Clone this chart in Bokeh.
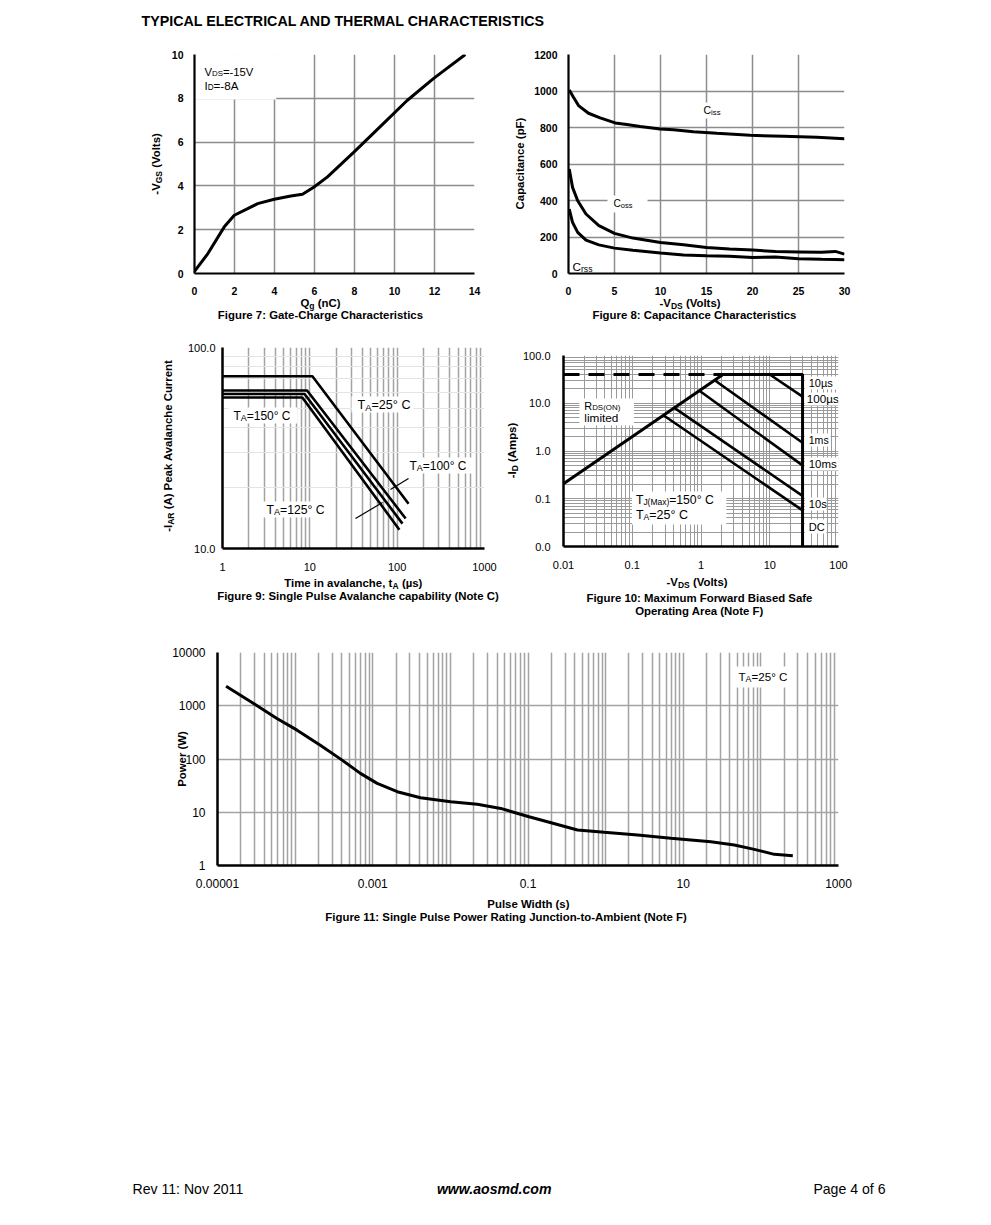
import math
from bokeh.plotting import figure
from bokeh.models import Label, FixedTicker, Range1d
from bokeh.layouts import column, row
from bokeh.embed import file_html
from bokeh.resources import INLINE

FONT = "Liberation Sans"

# ---------------- data ----------------
# Figure 7: gate charge
gate_qg_nc = [0.0, 0.67, 1.49, 1.99, 2.66, 3.16, 3.99, 4.82, 5.40, 5.98, 6.65, 7.97, 9.30, 10.63, 11.96, 13.54]
gate_vgs_v = [0.1, 0.91, 2.13, 2.66, 2.96, 3.19, 3.39, 3.54, 3.62, 3.95, 4.41, 5.54, 6.72, 7.90, 8.91, 10.0]
gate_ticks_x = [0, 2, 4, 6, 8, 10, 12, 14]
gate_ticks_y = [0, 2, 4, 6, 8, 10]

# Figure 8: capacitance
ciss_vds = [0.08, 0.54, 1.09, 2.17, 3.44, 5.07, 6.34, 7.79, 9.96, 11.41, 13.59, 16.12, 19.75, 23.37, 27.0, 30.0]
ciss_pf = [1006, 966, 920, 878, 853, 825, 816, 805, 792, 788, 777, 768, 757, 752, 746, 739]
cap_vds = [0.08, 0.44, 1.0, 1.9, 3.3, 5.0, 7.0, 10, 12.5, 15, 17.5, 20, 22.5, 25, 27.5, 29, 30]
coss_pf = [573, 472, 399, 326, 262, 220, 194, 170, 157, 143, 134, 129, 120, 118, 116, 121, 106]
crss_pf = [353, 280, 225, 183, 157, 139, 128, 112, 102, 97, 95, 88, 90, 81, 78, 77, 75]
cap_ticks_x = [0, 5, 10, 15, 20, 25, 30]
cap_ticks_y = [0, 200, 400, 600, 800, 1000, 1200]

# Figure 9: avalanche
aval_temps_c = [25, 100, 125, 150]
aval_t_us = [[1, 10.7, 135], [1, 9.3, 125], [1, 8.7, 115], [1, 8.2, 106]]
aval_i_a = [[72.0, 72.0, 16.7], [61.1, 61.1, 14.1], [58.7, 58.7, 13.3], [56.4, 56.4, 12.4]]
aval_x_ticks = [1, 10, 100, 1000]
aval_x_labels = ["1", "10", "100", "1000"]
aval_y_ticks = [10, 100]
aval_y_labels = ["10.0", "100.0"]

# Figure 10: safe operating area
soa_rds_vds = [0.01, 2.09]
soa_rds_id = [0.206, 40]
soa_id_max = 40
soa_vds_max = 30
soa_id_min = 0.01
soa_pulse_labels = ["10µs", "100µs", "1ms", "10ms", "10s", "DC"]
soa_line_start_vds = [10.0, 1.6, 0.96, 0.41, 0.284]
soa_line_start_id = [40, 30, 18, 8.0, 5.6]
soa_line_end_id = [13.8, 1.49, 0.5, 0.115, 0.057]
soa_ticks = [0.01, 0.1, 1, 10, 100]
soa_x_labels = ["0.01", "0.1", "1", "10", "100"]
soa_y_labels = ["0.0", "0.1", "1.0", "10.0", "100.0"]

# Figure 11: single pulse power
pulse_width_s = [1.29e-5, 2.92e-5, 5.83e-5, 1.06e-4, 2.11e-4, 4.03e-4, 6.93e-4, 1.14e-3, 2.07e-3,
                 4.12e-3, 1.01e-2, 2.22e-2, 4.45e-2, 0.103, 0.178, 0.434, 0.957, 2.58, 6.93,
                 22.7, 45.5, 82.4, 149, 258]
pulse_power_w = [2333, 1104, 578, 348, 182, 95.3, 53.7, 34.8, 24.3, 18.7, 15.7, 14.1, 11.8,
                 8.24, 6.64, 4.63, 4.20, 3.73, 3.24, 2.80, 2.43, 2.01, 1.62, 1.53]
pulse_x_ticks = [1e-5, 1e-3, 0.1, 10, 1000]
pulse_x_labels = ["0.00001", "0.001", "0.1", "10", "1000"]
pulse_y_ticks = [1, 10, 100, 1000, 10000]
pulse_y_labels = ["1", "10", "100", "1000", "10000"]

# ---------------- text metrics (Arial-compatible) ----------------
REG, BOLD = {}, {}


def _set(tab, chars, w):
    for c in chars:
        tab[c] = w


_set(REG, "0123456789", 556); _set(REG, " .,:", 278); _set(REG, "-()", 333)
_set(REG, "=", 584); _set(REG, "°", 400); _set(REG, "µ", 576)
_set(REG, "ABEKPSVXY", 667); _set(REG, "CDHNRU", 722); _set(REG, "FTZ", 611); _set(REG, "GOQ", 778)
_set(REG, "I", 278); _set(REG, "J", 500); _set(REG, "L", 556); _set(REG, "M", 833); _set(REG, "W", 944)
_set(REG, "abdeghnopqu", 556); _set(REG, "cksvxyz", 500); _set(REG, "ft", 278); _set(REG, "ijl", 222)
_set(REG, "m", 833); _set(REG, "r", 333); _set(REG, "w", 722)
_set(BOLD, "0123456789", 556); _set(BOLD, " .,", 278); _set(BOLD, ":", 333); _set(BOLD, "-()", 333)
_set(BOLD, "=", 584); _set(BOLD, "°", 400); _set(BOLD, "µ", 611)
_set(BOLD, "ABCDHKNRU", 722); _set(BOLD, "EPSVXY", 667); _set(BOLD, "FTZL", 611); _set(BOLD, "GOQ", 778)
_set(BOLD, "I", 278); _set(BOLD, "J", 556); _set(BOLD, "M", 833); _set(BOLD, "W", 944)
_set(BOLD, "acekesvxy", 556); _set(BOLD, "z", 500); _set(BOLD, "bdghnopqu", 611); _set(BOLD, "ft", 333)
_set(BOLD, "ijl", 278); _set(BOLD, "m", 889); _set(BOLD, "r", 389); _set(BOLD, "w", 778)


def tw(s, size, bold):
    tab = BOLD if bold else REG
    return sum(tab.get(c, 556) for c in s) * size / 1000.0


class FI:
    """A figure whose frame sits at a known place on the page (page px, origin top-left)."""

    def __init__(self, canvas, frame=None, xr=None, yr=None, xlog=False, ylog=False):
        self.cx, self.cy, self.cw, self.ch = canvas
        text_only = frame is None
        if text_only:
            frame = (self.cx, self.cy, self.cx + self.cw, self.cy + self.ch)
            xr, yr = (0, self.cw), (0, self.ch)
        self.fx0, self.fy0, self.fx1, self.fy1 = frame
        self.xr, self.yr, self.xlog, self.ylog = xr, yr, xlog, ylog
        kw = dict(width=self.cw, height=self.ch, output_backend="svg", toolbar_location=None,
                  x_range=Range1d(*xr), y_range=Range1d(*yr),
                  x_axis_type="log" if xlog else "linear",
                  y_axis_type="log" if ylog else "linear",
                  min_border_left=self.fx0 - self.cx, min_border_right=self.cx + self.cw - self.fx1,
                  min_border_top=self.fy0 - self.cy, min_border_bottom=self.cy + self.ch - self.fy1)
        if text_only:
            kw.update(x_axis_location=None, y_axis_location=None)
        self.p = figure(**kw)
        if text_only:
            self.p.grid.visible = False
        self.p.outline_line_color = None
        self.p.background_fill_color = "white"
        self.p.border_fill_color = "white"

    def _map(self, t, r, log):
        a, b = r
        if log:
            return 10 ** (math.log10(a) + t * (math.log10(b) - math.log10(a)))
        return a + t * (b - a)

    def dx(self, px):
        return self._map((px - self.fx0) / (self.fx1 - self.fx0), self.xr, self.xlog)

    def dy(self, py):
        return self._map((self.fy1 - py) / (self.fy1 - self.fy0), self.yr, self.ylog)

    def put(self, pieces, px, py, align="left", rot=False, style="normal", fit=None):
        """Place text pieces (text, size, shift) so that their visual middle sits at (px, py)."""
        bold = "bold" in style
        if fit is not None:
            k = fit / sum(tw(t, s, bold) for t, s, _ in pieces)
            pieces = [(t, s * k, d * k) for t, s, d in pieces]
        widths = [tw(t, s, bold) for t, s, _ in pieces]
        total = sum(widths)
        acc = {"left": 0.0, "center": -total / 2.0, "right": -total}[align]
        for (t, s, d), w in zip(pieces, widths):
            stripped = t.lstrip(" ")
            lead = tw(t[:len(t) - len(stripped)], s, bold)
            a = acc + lead
            if rot:
                x, y = px + d, py - a
            else:
                x, y = px + a, py + d
            self.p.add_layout(Label(x=self.dx(x), y=self.dy(y), text=stripped, text_font=FONT,
                                    text_font_size=f"{s:.2f}px", text_font_style=style,
                                    text_color="black", text_align="left",
                                    text_baseline="alphabetic",
                                    angle=math.pi / 2 if rot else 0.0))
            acc += w

    def box(self, px0, py0, px1, py1):
        self.p.quad(left=[self.dx(px0)], right=[self.dx(px1)], top=[self.dy(py0)],
                    bottom=[self.dy(py1)], fill_color="white", line_color=None)

    def seg(self, px0, py0, px1, py1, width=1.2):
        self.p.line([self.dx(px0), self.dx(px1)], [self.dy(py0), self.dy(py1)],
                    line_color="black", line_width=width)


def style_axes(fi, bold, size, sx, sy, ax_w=2.2):
    p = fi.p
    for ax in p.axis:
        ax.axis_line_width = ax_w
        ax.axis_line_color = "black"
        ax.major_tick_line_color = None
        ax.minor_tick_line_color = None
        ax.major_tick_out = 0
        ax.major_tick_in = 0
        ax.minor_tick_out = 0
        ax.minor_tick_in = 0
        ax.major_label_text_font = FONT
        ax.major_label_text_font_size = f"{size}px"
        ax.major_label_text_font_style = "bold" if bold else "normal"
        ax.major_label_text_color = "black"
    p.xaxis.major_label_standoff = sx
    p.yaxis.major_label_standoff = sy


def minors(d0, d1):
    return [k * 10.0 ** d for d in range(d0, d1) for k in range(2, 10)]


def W(fi):
    return row(fi.p)


GRID = "#8c8c8c"
LGRID = "#a3a3a3"
LB = 11.4   # bold label / caption size
SB = 8.5    # its subscript size

# ---------------- header ----------------
hdr = FI((0, 0, 975, 30))
hdr.put([("TYPICAL ELECTRICAL AND THERMAL CHARACTERISTICS", 13, 0)], 141, 20, style="bold", fit=404)

# ---------------- row 1: Figures 7 and 8 ----------------
s7 = FI((0, 30, 168, 268))
s7.put([("-V", LB, 0), ("GS", SB, 3), (" (Volts)", LB, 0)], 155, 163, align="center", rot=True, style="bold")

f7 = FI((168, 30, 333, 268), (193, 54, 474, 273), (0, 14), (0, 10))
p = f7.p
p.xaxis.ticker = FixedTicker(ticks=gate_ticks_x)
p.yaxis.ticker = FixedTicker(ticks=gate_ticks_y)
p.grid.grid_line_color = GRID
p.grid.grid_line_width = 1.5
style_axes(f7, True, 10.5, 13, 11)
f7.box(193, 53, 275, 99)
p.line(gate_qg_nc, gate_vgs_v, line_color="black", line_width=3)
f7.put([("V", 10, 0), ("DS", 7, 2), ("=-15V", 10, 0)], 203, 71, fit=49)
f7.put([("I", 10, 0), ("D", 7, 2), ("=-8A", 10, 0)], 203, 85, fit=34)

s8 = FI((501, 30, 29, 268))
s8.put([("Capacitance (pF)", LB, 0)], 519, 163, align="center", rot=True, style="bold")

f8 = FI((530, 30, 445, 268), (568, 54, 844, 273), (0, 30), (0, 1200))
p = f8.p
p.xaxis.ticker = FixedTicker(ticks=cap_ticks_x)
p.yaxis.ticker = FixedTicker(ticks=cap_ticks_y)
p.grid.grid_line_color = GRID
p.grid.grid_line_width = 1.5
style_axes(f8, True, 10.5, 13, 11)
f8.box(697, 102, 725, 118)
f8.box(607, 195, 647, 212)
f8.box(570, 258, 596, 272)
p.line(ciss_vds, ciss_pf, line_color="black", line_width=3)
p.line(cap_vds, coss_pf, line_color="black", line_width=3)
p.line(cap_vds, crss_pf, line_color="black", line_width=3)
f8.put([("C", 9.5, 0), ("iss", 7, 2)], 703, 110, fit=17)
f8.put([("C", 9.5, 0), ("oss", 7, 2)], 613, 203, fit=19)
f8.put([("C", 9.5, 0), ("rss", 7, 2)], 572, 266, fit=20)

cap1 = FI((0, 298, 975, 32))
cap1.put([("Q", LB, 0), ("g", SB, 3), (" (nC)", LB, 0)], 320, 302, align="center", style="bold")
cap1.put([("Figure 7: Gate-Charge Characteristics", LB, 0)], 320, 314, align="center", style="bold")
cap1.put([("-V", LB, 0), ("DS", SB, 3), (" (Volts)", LB, 0)], 690, 302, align="center", style="bold")
cap1.put([("Figure 8: Capacitance Characteristics", LB, 0)], 694, 314, align="center", style="bold")

# ---------------- row 2: Figures 9 and 10 ----------------
s9 = FI((0, 330, 176, 246))
s9.put([("-I", LB, 0), ("AR", SB, 3), (" (A) Peak Avalanche Current", LB, 0)], 167, 445,
       align="center", rot=True, style="bold")

f9 = FI((176, 330, 325, 246), (222, 347, 484, 548), (1, 1000), (10, 100), xlog=True, ylog=True)
p = f9.p
p.xaxis.ticker = FixedTicker(ticks=aval_x_ticks, minor_ticks=minors(0, 3))
p.yaxis.ticker = FixedTicker(ticks=aval_y_ticks, minor_ticks=minors(1, 2))
p.xaxis.major_label_overrides = dict(zip(aval_x_ticks, aval_x_labels))
p.yaxis.major_label_overrides = dict(zip(aval_y_ticks, aval_y_labels))
p.xgrid.grid_line_color = LGRID
p.xgrid.grid_line_width = 1.5
p.xgrid.minor_grid_line_color = LGRID
p.xgrid.minor_grid_line_width = 1.5
p.ygrid.grid_line_color = None
p.ygrid.minor_grid_line_color = "#e4e4e4"
p.ygrid.minor_grid_line_width = 1
style_axes(f9, False, 11, 14, 7, ax_w=2.5)
f9.box(228, 407, 297, 423)
f9.box(351, 396, 413, 412)
f9.box(404, 457, 472, 473)
f9.box(261, 501, 329, 517)
for xs, ys in zip(aval_t_us, aval_i_a):
    p.line(xs, ys, line_color="black", line_width=2.6)
f9.seg(408, 478, 390, 489)
f9.seg(355, 518, 382, 502)
f9.put([("T", 10, 0), ("A", 7.5, 2), (f"={aval_temps_c[3]}° C", 10, 0)], 233, 415, fit=57)
f9.put([("T", 10, 0), ("A", 7.5, 2), (f"={aval_temps_c[0]}° C", 10, 0)], 357, 404, fit=53)
f9.put([("T", 10, 0), ("A", 7.5, 2), (f"={aval_temps_c[1]}° C", 10, 0)], 409, 465, fit=57)
f9.put([("T", 10, 0), ("A", 7.5, 2), (f"={aval_temps_c[2]}° C", 10, 0)], 266, 509, fit=58)

s10 = FI((501, 330, 18, 246))
s10.put([("-I", LB, 0), ("D", SB, 3), (" (Amps)", LB, 0)], 511, 450, align="center", rot=True, style="bold")

f10 = FI((519, 330, 456, 246), (561, 355, 838, 546), (0.01, 100), (0.01, 100), xlog=True, ylog=True)
p = f10.p
p.xaxis.ticker = FixedTicker(ticks=soa_ticks, minor_ticks=minors(-2, 2))
p.yaxis.ticker = FixedTicker(ticks=soa_ticks, minor_ticks=minors(-2, 2))
p.xaxis.major_label_overrides = dict(zip(soa_ticks, soa_x_labels))
p.yaxis.major_label_overrides = dict(zip(soa_ticks, soa_y_labels))
for g in (p.xgrid, p.ygrid):
    g.grid_line_color = "#9a9a9a"
    g.grid_line_width = 1
    g.minor_grid_line_color = "#9a9a9a"
    g.minor_grid_line_width = 1
style_axes(f10, False, 11, 14, 13, ax_w=2.5)
f10.box(577, 398, 632, 425)
f10.box(630, 491, 725, 524)
f10.box(804, 376, 838, 389)
f10.box(804, 392, 838, 405)
f10.box(804, 433, 830, 446)
f10.box(804, 457, 838, 470)
f10.box(804, 497, 826, 510)
f10.box(804, 519, 826, 533)
p.line([soa_rds_vds[0], soa_rds_vds[1]], [soa_id_max, soa_id_max], line_color="black",
       line_width=3, line_dash="16 9")
p.line([soa_rds_vds[1], soa_vds_max, soa_vds_max], [soa_id_max, soa_id_max, soa_id_min],
       line_color="black", line_width=3)
p.line(soa_rds_vds, soa_rds_id, line_color="black", line_width=3)
for x0, y0, y1 in zip(soa_line_start_vds, soa_line_start_id, soa_line_end_id):
    p.line([x0, soa_vds_max], [y0, y1], line_color="black", line_width=2.6)
f10.put([("R", 11, 0), ("DS(ON)", 8, 2)], 582, 405, fit=36)
f10.put([("limited", 11, 0)], 582, 417, fit=34)
f10.put([("T", 11.5, 0), ("J(Max)", 8, 2.5), ("=150° C", 11.5, 0)], 634, 499, fit=78)
f10.put([("T", 11.5, 0), ("A", 8, 2.5), ("=25° C", 11.5, 0)], 634, 514, fit=52)
for lab, px, py, wd in zip(soa_pulse_labels, [808, 806, 808, 808, 808, 808],
                           [382, 398, 439, 463, 503, 526], [24, 32, 20, 28, 18, 16]):
    f10.put([(lab, 11, 0)], px, py, fit=wd)

cap2 = FI((0, 576, 975, 49))
cap2.put([("Time in avalanche, t", LB, 0), ("A", SB, 3), (" (µs)", LB, 0)], 353, 582,
         align="center", style="bold")
cap2.put([("Figure 9: Single Pulse Avalanche capability (Note C)", LB, 0)], 358, 595,
         align="center", style="bold")
cap2.put([("-V", LB, 0), ("DS", SB, 3), (" (Volts)", LB, 0)], 697, 581, align="center", style="bold")
cap2.put([("Figure 10: Maximum Forward Biased Safe", LB, 0)], 699, 597, align="center", style="bold")
cap2.put([("Operating Area (Note F)", LB, 0)], 699, 610, align="center", style="bold")

# ---------------- row 3: Figure 11 ----------------
f11 = FI((0, 625, 975, 271), (217, 652, 838, 865), (1e-5, 1000), (1, 10000), xlog=True, ylog=True)
p = f11.p
p.xaxis.ticker = FixedTicker(ticks=pulse_x_ticks, minor_ticks=minors(-5, 3) + [1e-4, 1e-2, 1, 100])
p.yaxis.ticker = FixedTicker(ticks=pulse_y_ticks)
p.xaxis.major_label_overrides = dict(zip(pulse_x_ticks, pulse_x_labels))
p.yaxis.major_label_overrides = dict(zip(pulse_y_ticks, pulse_y_labels))
p.xgrid.grid_line_color = LGRID
p.xgrid.grid_line_width = 1.5
p.xgrid.minor_grid_line_color = LGRID
p.xgrid.minor_grid_line_width = 1.5
p.ygrid.grid_line_color = LGRID
p.ygrid.grid_line_width = 1.5
style_axes(f11, False, 12, 13, 12, ax_w=2.5)
p.yaxis.axis_label = "Power (W)"
p.yaxis.axis_label_text_font = FONT
p.yaxis.axis_label_text_font_size = f"{LB}px"
p.yaxis.axis_label_text_font_style = "bold"
p.yaxis.axis_label_text_color = "black"
p.yaxis.axis_label_standoff = -19
f11.box(732, 666, 790, 687)
p.line(pulse_width_s, pulse_power_w, line_color="black", line_width=3)
f11.put([("T", 10, 0), ("A", 7.5, 2), ("=25° C", 10, 0)], 738, 676, fit=49)

cap3 = FI((0, 896, 975, 34))
cap3.put([("Pulse Width (s)", LB, 0)], 528, 903, align="center", style="bold")
cap3.put([("Figure 11: Single Pulse Power Rating Junction-to-Ambient (Note F)", LB, 0)], 506, 916,
         align="center", style="bold")

# ---------------- footer ----------------
FT = 14.1
ftr = FI((0, 930, 975, 275))
ftr.put([("Rev 11: Nov 2011", FT, 0)], 132, 1188)
ftr.put([("www.aosmd.com", FT, 0)], 494, 1188, align="center", style="bold italic")
ftr.put([("Page 4 of 6", FT, 0)], 885, 1188, align="right")

layout = column(
    W(hdr),
    row(W(s7), W(f7), W(s8), W(f8)),
    W(cap1),
    row(W(s9), W(f9), W(s10), W(f10)),
    W(cap2),
    W(f11),
    W(cap3),
    W(ftr),
)
open("out.html", "w").write(file_html(layout, INLINE))
